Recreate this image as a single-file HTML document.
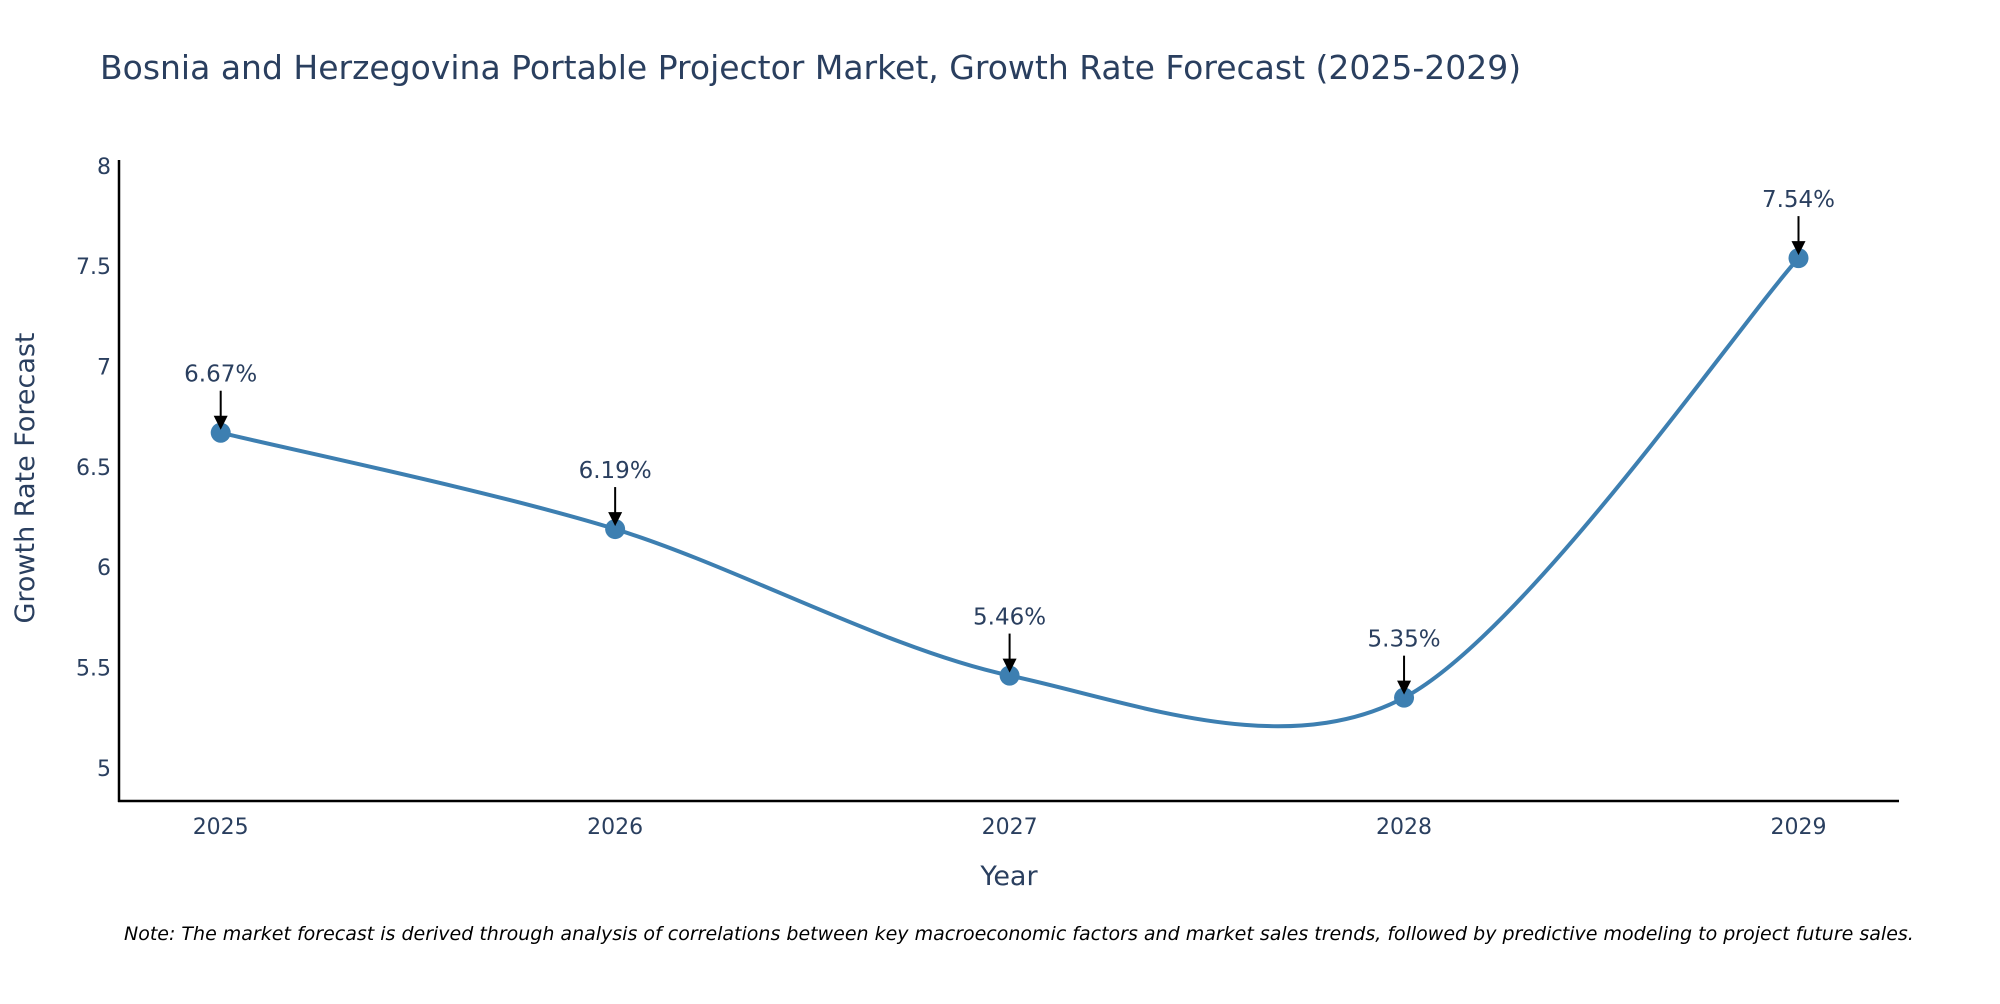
<!DOCTYPE html>
<html>
<head>
<meta charset="utf-8">
<style>
  html, body { margin: 0; padding: 0; background: #fff; }
  body { width: 2000px; height: 1000px; overflow: hidden; font-family: "DejaVu Sans", "Liberation Sans", sans-serif; }
  svg text { font-family: "DejaVu Sans", "Liberation Sans", sans-serif; }
</style>
</head>
<body>
<svg id="chart" width="2000" height="1000" xmlns="http://www.w3.org/2000/svg">
  <text x="100" y="79" font-size="33" fill="#2a3f5f">Bosnia and Herzegovina Portable Projector Market, Growth Rate Forecast (2025-2029)</text>
  <g id="grid"></g>
  <line x1="119" y1="160" x2="119" y2="802" stroke="#000" stroke-width="2.5"/>
  <line x1="118" y1="801" x2="1899" y2="801" stroke="#000" stroke-width="2.5"/>
  <text transform="translate(34,478) rotate(-90)" text-anchor="middle" font-size="27" fill="#2a3f5f">Growth Rate Forecast</text>
  <text x="1009" y="885" text-anchor="middle" font-size="27" fill="#2a3f5f">Year</text>
  <text x="124" y="940" font-size="19" font-style="italic" fill="#000">Note: The market forecast is derived through analysis of correlations between key macroeconomic factors and market sales trends, followed by predictive modeling to project future sales.</text>
</svg>
<script>
const years = [2025, 2026, 2027, 2028, 2029];
const values = [6.67, 6.19, 5.46, 5.35, 7.54];
const labels = ["6.67%", "6.19%", "5.46%", "5.35%", "7.54%"];
const yTicks = [5, 5.5, 6, 6.5, 7, 7.5, 8];
const yTickLabels = ["5", "5.5", "6", "6.5", "7", "7.5", "8"];

const NS = "http://www.w3.org/2000/svg";
const g = document.getElementById("grid");
function xScale(yr) { return 220.7 + (yr - 2025) * 394.45; }
function yScale(v) { return 767.9 - (v - 5) * 200.7; }
function mk(tag, attrs) {
  const e = document.createElementNS(NS, tag);
  for (const k in attrs) e.setAttribute(k, attrs[k]);
  g.appendChild(e);
  return e;
}

yTicks.forEach((t, i) => {
  const tx = mk("text", {x: 111, y: yScale(t) + 8, "text-anchor": "end", "font-size": 22, fill: "#2a3f5f"});
  
  
  tx.textContent = yTickLabels[i];
});
years.forEach(yr => {
  const tx = mk("text", {x: xScale(yr), y: 834, "text-anchor": "middle", "font-size": 22, fill: "#2a3f5f"});
  
  
  tx.textContent = yr;
});

const pts = years.map((yr, i) => [xScale(yr), yScale(values[i])]);
let d = "M" + pts[0][0] + "," + pts[0][1];
for (let i = 0; i < pts.length - 1; i++) {
  const p0 = pts[Math.max(i - 1, 0)], p1 = pts[i], p2 = pts[i + 1], p3 = pts[Math.min(i + 2, pts.length - 1)];
  const k = 6.5;
  const c1 = [p1[0] + (p2[0] - p0[0]) / k, p1[1] + (p2[1] - p0[1]) / k];
  const c2 = [p2[0] - (p3[0] - p1[0]) / k, p2[1] - (p3[1] - p1[1]) / k];
  d += " C" + c1 + " " + c2 + " " + p2;
}
const line = mk("path", {d: d, fill: "none", stroke: "#3d7fb1", "stroke-width": 4});



pts.forEach((p, i) => {
  const c = mk("circle", {cx: p[0], cy: p[1], r: 10, fill: "#3d7fb1"});
  
  
  const a = mk("line", {x1: p[0], x2: p[0], y1: p[1] - 42, y2: p[1] - 16, stroke: "#000", "stroke-width": 2});
  
  
  const h = mk("polygon", {points: (p[0]-7)+","+(p[1]-17)+" "+(p[0]+7)+","+(p[1]-17)+" "+p[0]+","+(p[1]-3), fill: "#000"});
  
  
  const t = mk("text", {x: p[0], y: p[1] - 51, "text-anchor": "middle", "font-size": 23, fill: "#2a3f5f"});
  
  
  t.textContent = labels[i];
});
</script>
</body>
</html>
